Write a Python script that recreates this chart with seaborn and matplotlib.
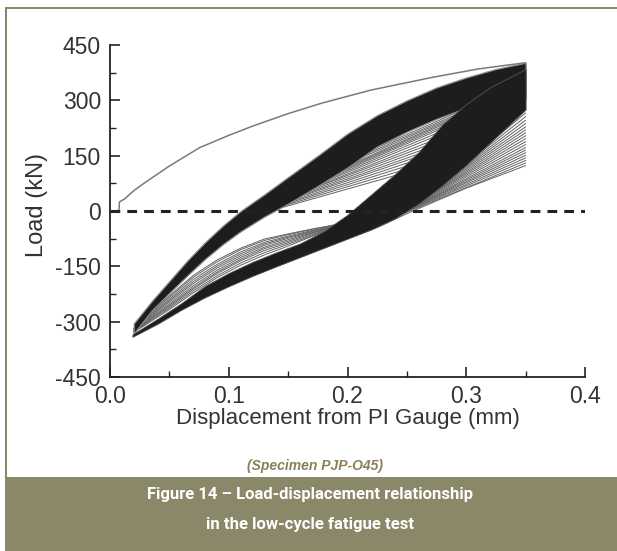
import numpy as np
import pandas as pd
import matplotlib
matplotlib.use("Agg")
import matplotlib.pyplot as plt
import seaborn as sns
from matplotlib.patches import Rectangle
from matplotlib.ticker import MultipleLocator, FixedLocator
from matplotlib import font_manager

# ---------------- data ----------------
# initial monotonic loading curve
init_x = [0.005, 0.0075, 0.008, 0.012, 0.020, 0.029, 0.050, 0.0756, 0.100, 0.120, 0.150, 0.179, 0.220, 0.250, 0.271, 0.310, 0.350]
init_y = [0, 2, 25, 32, 55, 76, 122, 172, 205, 230, 264, 293, 328, 348, 362, 385, 402]

# left (upper) dense band of cycles
lb_x = [0.020, 0.035, 0.050, 0.065, 0.080, 0.095, 0.110, 0.130, 0.150, 0.175, 0.200, 0.225, 0.250, 0.275, 0.300, 0.325, 0.350]
lb_up = [-305, -245, -190, -135, -85, -40, 0, 45, 92, 150, 210, 260, 300, 335, 362, 385, 402]
lb_lo = [-332, -270, -222, -175, -130, -90, -55, -15, 20, 68, 118, 175, 215, 250, 280, 298, 305]

# right (lower) dense band of cycles
rb_x = [0.019, 0.040, 0.060, 0.080, 0.100, 0.120, 0.140, 0.160, 0.180, 0.200, 0.220, 0.240, 0.260, 0.280, 0.300, 0.320, 0.350]
rb_up = [-334, -292, -250, -203, -168, -138, -112, -88, -55, -10, 45, 100, 160, 235, 290, 335, 385]
rb_lo = [-341, -306, -268, -234, -204, -176, -150, -125, -100, -75, -50, -20, 20, 70, 125, 185, 275]

# outermost (lowest) cycle branch
lowest_x = [0.019, 0.050, 0.080, 0.112, 0.160, 0.200, 0.227, 0.255, 0.300, 0.350]
lowest_y = [-341, -285, -233, -186, -126, -76, -42, 0, 62, 123]

# lower fan of branches (between the two bands, below zero)
low_x = [0.020, 0.035, 0.050, 0.070, 0.090, 0.110, 0.130, 0.150, 0.170, 0.190, 0.210]
low_L1 = [-318, -272, -230, -175, -133, -101, -76, -62, -49, -37, -24]
low_L2 = [-319, -275, -234, -180, -138, -105, -80, -64, -50, -38, -24]
low_L3 = [-320, -278, -239, -186, -145, -111, -85, -68, -53, -39, -24]
low_L4 = [-322, -281, -243, -192, -150, -116, -89, -71, -55, -40, -24]
low_L5 = [-323, -284, -247, -197, -155, -121, -93, -74, -57, -41, -24]
low_L6 = [-325, -287, -252, -203, -161, -126, -98, -78, -59, -42, -24]
low_L7 = [-326, -290, -256, -208, -166, -131, -102, -82, -61, -43, -24]
low_L8 = [-327, -292, -259, -212, -170, -135, -107, -86, -64, -44, -24]
low_L9 = [-328, -295, -263, -217, -176, -141, -113, -90, -67, -45, -24]
low_L10 = [-329, -298, -267, -222, -181, -147, -119, -95, -69, -46, -24]

# upper fan of branches (between the two bands, above zero)
uf_x0 = [0.138, 0.142, 0.146, 0.150, 0.154, 0.158, 0.162, 0.166, 0.170, 0.175, 0.180, 0.185, 0.190, 0.195, 0.200, 0.206, 0.212, 0.218]
uf_y0 = [3, 10, 17, 24, 32, 39, 47, 55, 62, 72, 82, 92, 102, 112, 122, 136, 149, 162]
uf_x1 = [0.242, 0.246, 0.250, 0.254, 0.258, 0.261, 0.264, 0.267, 0.270, 0.273, 0.276, 0.279, 0.282, 0.285, 0.288, 0.291, 0.294, 0.297]
uf_y1 = [98, 110, 122, 134, 146, 156, 167, 178, 189, 201, 212, 223, 232, 241, 249, 257, 265, 274]

# right fan of branches ending at the peak displacement
rf_x0 = [0.224, 0.227, 0.230, 0.233, 0.236, 0.239, 0.242, 0.246, 0.250, 0.254, 0.258, 0.262, 0.266, 0.270, 0.275, 0.280, 0.286, 0.292]
rf_y0 = [-38, -33, -29, -24, -20, -15, -10, -2, 6, 14, 22, 31, 41, 51, 63, 76, 92, 109]
rf_x1 = [0.35] * 18
rf_y1 = [130, 137, 144, 151, 158, 165, 172, 180, 188, 196, 204, 212, 220, 228, 237, 246, 256, 266]

x_ticks = [0.0, 0.1, 0.2, 0.3, 0.4]
x_tick_labels = ["0.0", "0.1", "0.2", "0.3", "0.4"]
y_ticks = [-450, -300, -150, 0, 150, 300, 450]
y_tick_labels = ["-450", "-300", "-150", "0", "150", "300", "450"]

x_label = "Displacement from PI Gauge (mm)"
y_label = "Load (kN)"
specimen = "(Specimen PJP-O45)"
caption1 = "Figure 14 \u2013 Load-displacement relationship"
caption2 = "in the low-cycle fatigue test"

# ---------------- build long table of thin branches ----------------
rows = []
def add_line(name, xs, ys):
    for xv, yv in zip(xs, ys):
        rows.append((name, xv, yv))

add_line("lowest", lowest_x, lowest_y)
for i, ln in enumerate([low_L1, low_L2, low_L3, low_L4, low_L5, low_L6, low_L7, low_L8, low_L9, low_L10]):
    add_line(f"low{i}", low_x, ln)
for i in range(len(uf_x0)):
    add_line(f"up{i}", [uf_x0[i], uf_x1[i]], [uf_y0[i], uf_y1[i]])
for i in range(len(rf_x0)):
    add_line(f"rf{i}", [rf_x0[i], rf_x1[i]], [rf_y0[i], rf_y1[i]])
branches = pd.DataFrame(rows, columns=["line", "x", "y"])
initial = pd.DataFrame({"x": init_x, "y": init_y})

# ---------------- style ----------------
sns.set_theme(style="ticks")
plt.rcParams["font.family"] = ["Liberation Sans", "DejaVu Sans"]

available = {f.name for f in font_manager.fontManager.ttflist}
if "Liberation Sans Narrow" in available:
    cap_family, cap_size = ["Liberation Sans Narrow", "DejaVu Sans"], 14
else:
    cap_family, cap_size = ["Roboto", "DejaVu Sans"], 12

fig = plt.figure(figsize=(6.17, 5.51), dpi=100)
fig.patch.set_facecolor("white")
W, H = 617.0, 551.0
ax = fig.add_axes([110 / W, (H - 377) / H, 475 / W, 332 / H])
ax.set_facecolor("white")

text_col = "#333333"
olive = "#8b8769"

# thin branches
sns.lineplot(data=branches, x="x", y="y", units="line", estimator=None, sort=False,
             color="#626262", lw=0.7, ax=ax, legend=False, zorder=2)
# dense bands
ax.fill_between(lb_x, lb_lo, lb_up, color="#1d1d1d", edgecolor="#8a8a8a", lw=0.9, zorder=3)
ax.fill_between(rb_x, rb_lo, rb_up, color="#1d1d1d", edgecolor="#555555", lw=0.6, zorder=3)
# initial curve
sns.lineplot(data=initial, x="x", y="y", sort=False, estimator=None, color="#7a7a7a",
             lw=1.1, ax=ax, zorder=4)
# zero line
ax.axhline(0, color="#222222", lw=2.2, dashes=(3.2, 2.3), zorder=5)

ax.set_xlim(0, 0.4)
ax.set_ylim(-450, 450)
ax.xaxis.set_major_locator(FixedLocator(x_ticks))
ax.set_xticklabels(x_tick_labels)
ax.yaxis.set_major_locator(FixedLocator(y_ticks))
ax.set_yticklabels(y_tick_labels)
ax.xaxis.set_minor_locator(MultipleLocator(0.05))
ax.yaxis.set_minor_locator(MultipleLocator(75))
for s in ["top", "right"]:
    ax.spines[s].set_visible(False)
for s in ["left", "bottom"]:
    ax.spines[s].set_color("#222222")
    ax.spines[s].set_linewidth(1.3)
ax.tick_params(axis="both", which="major", direction="in", length=7, width=1.2,
               color="#222222", labelcolor=text_col, labelsize=16.5)
ax.tick_params(axis="both", which="minor", direction="in", length=4, width=1.0, color="#222222")
ax.tick_params(axis="x", which="major", pad=6)
ax.tick_params(axis="y", which="major", pad=6.5)

ax.set_xlabel(x_label, fontsize=16, color=text_col)
ax.set_ylabel(y_label, fontsize=17, color=text_col)
ax.xaxis.set_label_coords((348 - 110) / 475, -0.092)
ax.yaxis.set_label_coords((48 - 110) / 475, 0.518)

# frame and caption box
fig.add_artist(Rectangle((5 / W, (H - 9) / H), 1 - 5 / W, 2 / H, transform=fig.transFigure,
                         facecolor=olive, edgecolor="none"))
fig.add_artist(Rectangle((5 / W, (H - 478) / H), 2 / W, (478 - 7) / H, transform=fig.transFigure,
                         facecolor=olive, edgecolor="none"))
fig.add_artist(Rectangle((5 / W, 0), 1 - 5 / W, (H - 477) / H, transform=fig.transFigure,
                         facecolor=olive, edgecolor="none"))

fig.text(315 / W, (H - 466) / H, specimen, ha="center", va="center", fontsize=10,
         style="italic", weight="bold", color="#8a7f58")
fig.text(310 / W, (H - 494) / H, caption1, ha="center", va="center", fontsize=cap_size,
         weight="bold", color="white", family=cap_family)
fig.text(310 / W, (H - 524) / H, caption2, ha="center", va="center", fontsize=cap_size,
         weight="bold", color="white", family=cap_family)

fig.savefig("out.png", dpi=100, facecolor="white")
